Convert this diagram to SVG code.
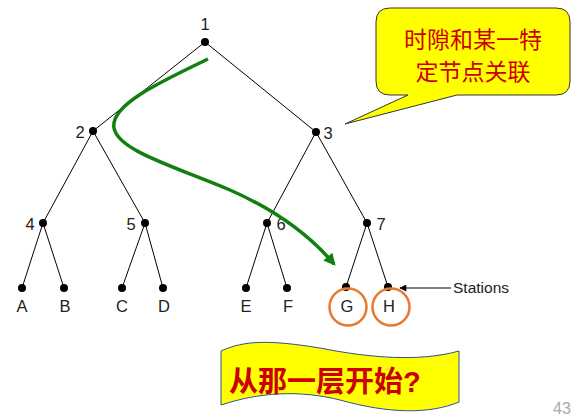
<svg xmlns="http://www.w3.org/2000/svg" width="584" height="420" viewBox="0 0 584 420">
<style>
.e{stroke:#000;stroke-width:1;fill:none}
.n{fill:#000}
.l{font-family:"Liberation Sans",Arial,sans-serif;font-size:16.5px;fill:#222}
.s{fill:none;stroke:#e87a30;stroke-width:2.5}
.cj{font-family:"Liberation Sans","Noto Sans CJK SC",sans-serif;fill:#cc0000}
</style>
<defs>
<marker id="ga" viewBox="0 0 10 10" refX="8" refY="5" markerWidth="16" markerHeight="12" orient="auto" markerUnits="userSpaceOnUse">
<path d="M0,0L10,5L0,10z" fill="#118011"/>
</marker>
<marker id="ba" viewBox="0 0 10 10" refX="9" refY="5" markerWidth="9" markerHeight="7" orient="auto" markerUnits="userSpaceOnUse">
<path d="M0,0L10,5L0,10z" fill="#000"/>
</marker>
</defs>
<rect width="584" height="420" fill="#fff"/>
<g id="edges">
<path class="e" d="M205,42L93,131M205,42L316,132M93,131L43,223M93,131L145,223M316,132L267,223M316,132L367,223M43,223L22,288M43,223L64,288M145,223L122,288M145,223L163,288M267,223L246,288M267,223L287,288M367,223L346,287M367,223L388,287"/>
</g>
<g id="n1"><circle class="n" cx="205" cy="42" r="4"/><text class="l" x="205" y="30" text-anchor="middle">1</text></g>
<g id="n2"><circle class="n" cx="93" cy="131" r="4"/><text class="l" x="80" y="138" text-anchor="middle">2</text></g>
<g id="n3"><circle class="n" cx="316" cy="132" r="4"/><text class="l" x="328" y="139" text-anchor="middle">3</text></g>
<g id="n4"><circle class="n" cx="43" cy="223" r="4"/><text class="l" x="30" y="230" text-anchor="middle">4</text></g>
<g id="n5"><circle class="n" cx="145" cy="223" r="4"/><text class="l" x="131" y="230" text-anchor="middle">5</text></g>
<g id="n6"><circle class="n" cx="267" cy="223" r="4"/><text class="l" x="281" y="230" text-anchor="middle">6</text></g>
<g id="n7"><circle class="n" cx="367" cy="223" r="4"/><text class="l" x="381" y="230" text-anchor="middle">7</text></g>
<g id="A"><circle class="n" cx="22" cy="288" r="4"/><text class="l" x="22" y="312" text-anchor="middle">A</text></g>
<g id="B"><circle class="n" cx="64" cy="288" r="4"/><text class="l" x="65" y="312" text-anchor="middle">B</text></g>
<g id="C"><circle class="n" cx="122" cy="288" r="4"/><text class="l" x="122" y="312" text-anchor="middle">C</text></g>
<g id="D"><circle class="n" cx="163" cy="288" r="4"/><text class="l" x="164" y="312" text-anchor="middle">D</text></g>
<g id="E"><circle class="n" cx="246" cy="288" r="4"/><text class="l" x="246" y="312" text-anchor="middle">E</text></g>
<g id="F"><circle class="n" cx="287" cy="288" r="4"/><text class="l" x="288" y="312" text-anchor="middle">F</text></g>
<g id="G"><circle class="n" cx="346" cy="287" r="4"/><text class="l" x="347" y="312" text-anchor="middle">G</text><circle class="s" cx="348" cy="307" r="18.5"/></g>
<g id="H"><circle class="n" cx="388" cy="287" r="4"/><text class="l" x="389" y="312" text-anchor="middle">H</text><circle class="s" cx="391" cy="307" r="18.5"/></g>
<g id="stations">
<line x1="451" y1="288" x2="400" y2="288" stroke="#000" stroke-width="1.2" marker-end="url(#ba)"/>
<text x="453" y="293" font-family="Liberation Sans,Arial,sans-serif" font-size="15.5" fill="#222">Stations</text>
</g>
<g id="path">
<path d="M208,59C160,82 110,105 114,128C118,150 170,165 230,190C280,212 312,238 334,264" fill="none" stroke="#118011" stroke-width="3.5" marker-end="url(#ga)"/>
</g>
<g id="callout">
<path d="M390,8H556Q570,8 570,22V81Q570,95 556,95H457L345,124L408,95H390Q376,95 376,81V22Q376,8 390,8Z" fill="#ffff00" stroke="#333" stroke-width="1"/>
<text class="cj" x="473" y="48" font-size="23" text-anchor="middle">时隙和某一特</text>
<text class="cj" x="473" y="80" font-size="23" text-anchor="middle">定节点关联</text>
</g>
<g id="banner">
<path d="M221,351C245,340 270,340 320,348C370,358 420,362 459,351V402C430,414 390,414 340,400C300,390 260,392 221,405Z" fill="#ffff00" stroke="#2f4f8f" stroke-width="1"/>
<text class="cj" x="229" y="392" font-size="29" font-weight="bold">从那一层开始?</text>
</g>
<text x="562" y="414" font-family="Liberation Sans,Arial,sans-serif" font-size="16" fill="#aaa" text-anchor="middle">43</text>
</svg>
